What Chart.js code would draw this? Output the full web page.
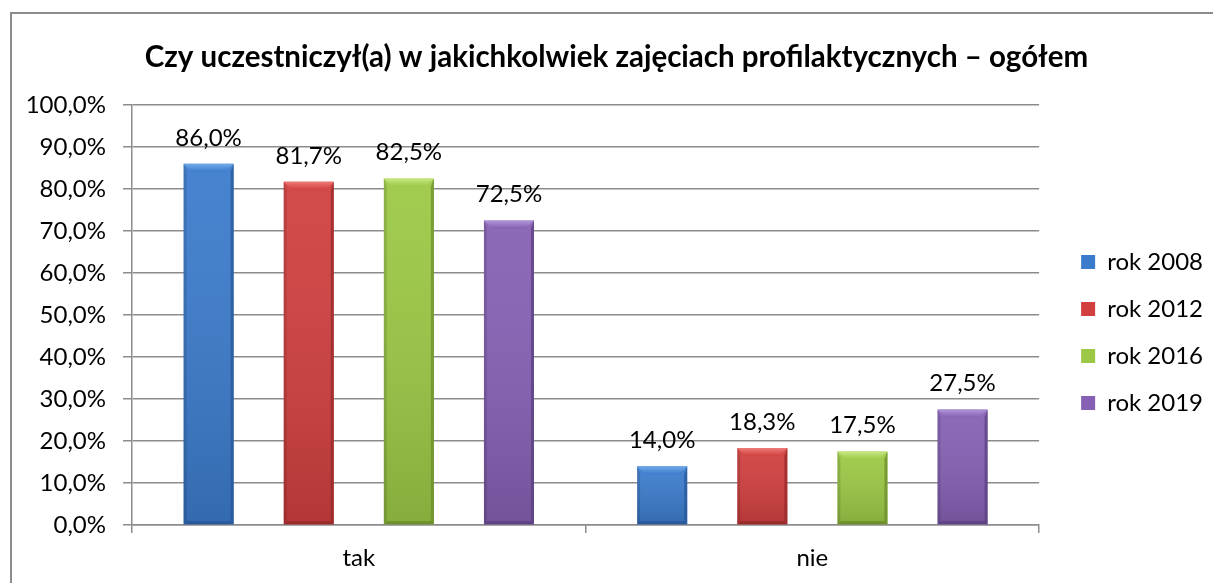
<!DOCTYPE html>
<html>
<head>
<meta charset="utf-8">
<title>Czy uczestniczył(a) w jakichkolwiek zajęciach profilaktycznych – ogółem</title>
<script src="https://cdn.jsdelivr.net/npm/chart.js@4.4.0/dist/chart.umd.min.js"></script>
<style>
    html, body { margin: 0; padding: 0; background: #fff; overflow: hidden; }
    #frame { position: absolute; left: 10px; top: 12px; width: 1400px; height: 800px; border: 2px solid #8c8c8c; }
    #wrap { position: absolute; left: 0; top: 0; width: 1213px; height: 583px; }
</style>
</head>
<body>
<div id="frame"></div>
<div id="wrap"><canvas id="chart" width="1213" height="583"></canvas></div>
<script>
const titleText = 'Czy uczestniczył(a) w jakichkolwiek zajęciach profilaktycznych – ogółem';
const categories = ['tak', 'nie'];
const seriesNames = ['rok 2008', 'rok 2012', 'rok 2016', 'rok 2019'];
const rok2008 = [86.0, 14.0];
const rok2012 = [81.7, 18.3];
const rok2016 = [82.5, 17.5];
const rok2019 = [72.5, 27.5];
const yTicks = [0, 10, 20, 30, 40, 50, 60, 70, 80, 90, 100];

// base / light / dark shade for each series
const palette = [
    { base: '#3b7bcc', light: '#74aaea', dark: '#28579a' },
    { base: '#d13f3f', light: '#ec7a76', dark: '#982a2a' },
    { base: '#9cc845', light: '#c8e884', dark: '#6c8c2a' },
    { base: '#8660b4', light: '#b196d8', dark: '#5b4082' }
];

const fmt = v => v.toFixed(1).replace('.', ',') + '%';

// Excel-like bevel on every bar
const bevelPlugin = {
    id: 'bevel',
    afterDatasetsDraw(chart) {
        const ctx = chart.ctx;
        chart.data.datasets.forEach((ds, i) => {
            const meta = chart.getDatasetMeta(i);
            const col = palette[i];
            meta.data.forEach(bar => {
                const { x, y, base, width } = bar.getProps(['x', 'y', 'base', 'width'], true);
                const l = x - width / 2, r = x + width / 2, t = y, b = base;
                const tb = 8, sb = 3;
                ctx.save();
                // body shading
                const g = ctx.createLinearGradient(0, t, 0, b);
                g.addColorStop(0, 'rgba(255,255,255,0.06)');
                g.addColorStop(1, 'rgba(0,0,0,0.14)');
                ctx.fillStyle = g;
                ctx.fillRect(l, t, width, b - t);
                // top bevel
                const gt = ctx.createLinearGradient(0, t, 0, t + tb);
                gt.addColorStop(0, col.light);
                gt.addColorStop(1, col.base);
                ctx.fillStyle = gt;
                ctx.beginPath();
                ctx.moveTo(l, t); ctx.lineTo(r, t); ctx.lineTo(r - tb, t + tb); ctx.lineTo(l + tb, t + tb);
                ctx.closePath(); ctx.fill();
                // left side
                ctx.fillStyle = 'rgba(0,0,0,0.12)';
                ctx.beginPath();
                ctx.moveTo(l, t); ctx.lineTo(l + sb, t + tb); ctx.lineTo(l + sb, b - sb); ctx.lineTo(l, b);
                ctx.closePath(); ctx.fill();
                // right side
                ctx.fillStyle = col.dark;
                ctx.globalAlpha = 0.75;
                ctx.beginPath();
                ctx.moveTo(r, t); ctx.lineTo(r - sb, t + tb); ctx.lineTo(r - sb, b - sb); ctx.lineTo(r, b);
                ctx.closePath(); ctx.fill();
                // bottom
                ctx.globalAlpha = 0.9;
                ctx.beginPath();
                ctx.moveTo(l, b); ctx.lineTo(l + sb, b - sb); ctx.lineTo(r - sb, b - sb); ctx.lineTo(r, b);
                ctx.closePath(); ctx.fill();
                ctx.restore();
            });
        });
    }
};

const valueLabels = {
    id: 'valueLabels',
    afterDatasetsDraw(chart) {
        const ctx = chart.ctx;
        ctx.save();
        ctx.font = '24px Lato';
        ctx.fillStyle = '#000';
        ctx.textAlign = 'center';
        ctx.textBaseline = 'alphabetic';
        chart.data.datasets.forEach((ds, i) => {
            chart.getDatasetMeta(i).data.forEach((bar, j) => {
                ctx.fillText(fmt(ds.data[j]), bar.x, bar.y - 18);
            });
        });
        ctx.restore();
    }
};

Chart.defaults.font.family = 'Lato';
Chart.defaults.color = '#000';

const series = [rok2008, rok2012, rok2016, rok2019];

new Chart(document.getElementById('chart'), {
    type: 'bar',
    data: {
        labels: categories,
        datasets: series.map((d, i) => ({
            label: seriesNames[i],
            data: d,
            backgroundColor: palette[i].base,
            borderWidth: 0,
            categoryPercentage: 0.883,
            barPercentage: 0.5
        }))
    },
    options: {
        responsive: false,
        animation: false,
        layout: { padding: { left: 20, right: 0, top: 0, bottom: 0 } },
        plugins: {
            title: {
                display: true,
                text: titleText,
                font: { size: 29.5, weight: 'bold' },
                color: '#000',
                padding: { top: 40, bottom: 29.5 }
            },
            legend: {
                position: 'right',
                fullSize: false,
                title: { display: true, text: ' ', font: { size: 10, lineHeight: 1 }, padding: { top: 0, bottom: 25 } },
                labels: {
                    boxWidth: 14,
                    boxHeight: 14,
                    padding: 23,
                    font: { size: 24 },
                    color: '#000'
                }
            },
            tooltip: { enabled: false }
        },
        scales: {
            x: {
                afterFit: s => { s.height = 58; },
                grid: { display: true, drawOnChartArea: false, drawTicks: true, tickLength: 8, color: '#8c8c8c', lineWidth: 1.5 },
                border: { display: true, color: '#8c8c8c', width: 1.5 },
                ticks: { font: { size: 24 }, padding: 11, color: '#000' }
            },
            y: {
                min: 0,
                max: 100,
                afterFit: s => { s.width = 112; },
                afterBuildTicks: s => { s.ticks = yTicks.map(v => ({ value: v })); },
                grid: { color: '#8c8c8c', lineWidth: 1.5, tickLength: 9 },
                border: { display: true, color: '#8c8c8c', width: 1.5 },
                ticks: { font: { size: 24 }, padding: 17, color: '#000', callback: v => fmt(v) }
            },
            gap: {
                type: 'linear',
                position: 'right',
                display: true,
                afterFit: s => { s.width = 19; },
                grid: { display: false, drawTicks: false },
                border: { display: false },
                ticks: { display: false }
            }
        }
    },
    plugins: [bevelPlugin, valueLabels]
});
</script>
</body>
</html>
